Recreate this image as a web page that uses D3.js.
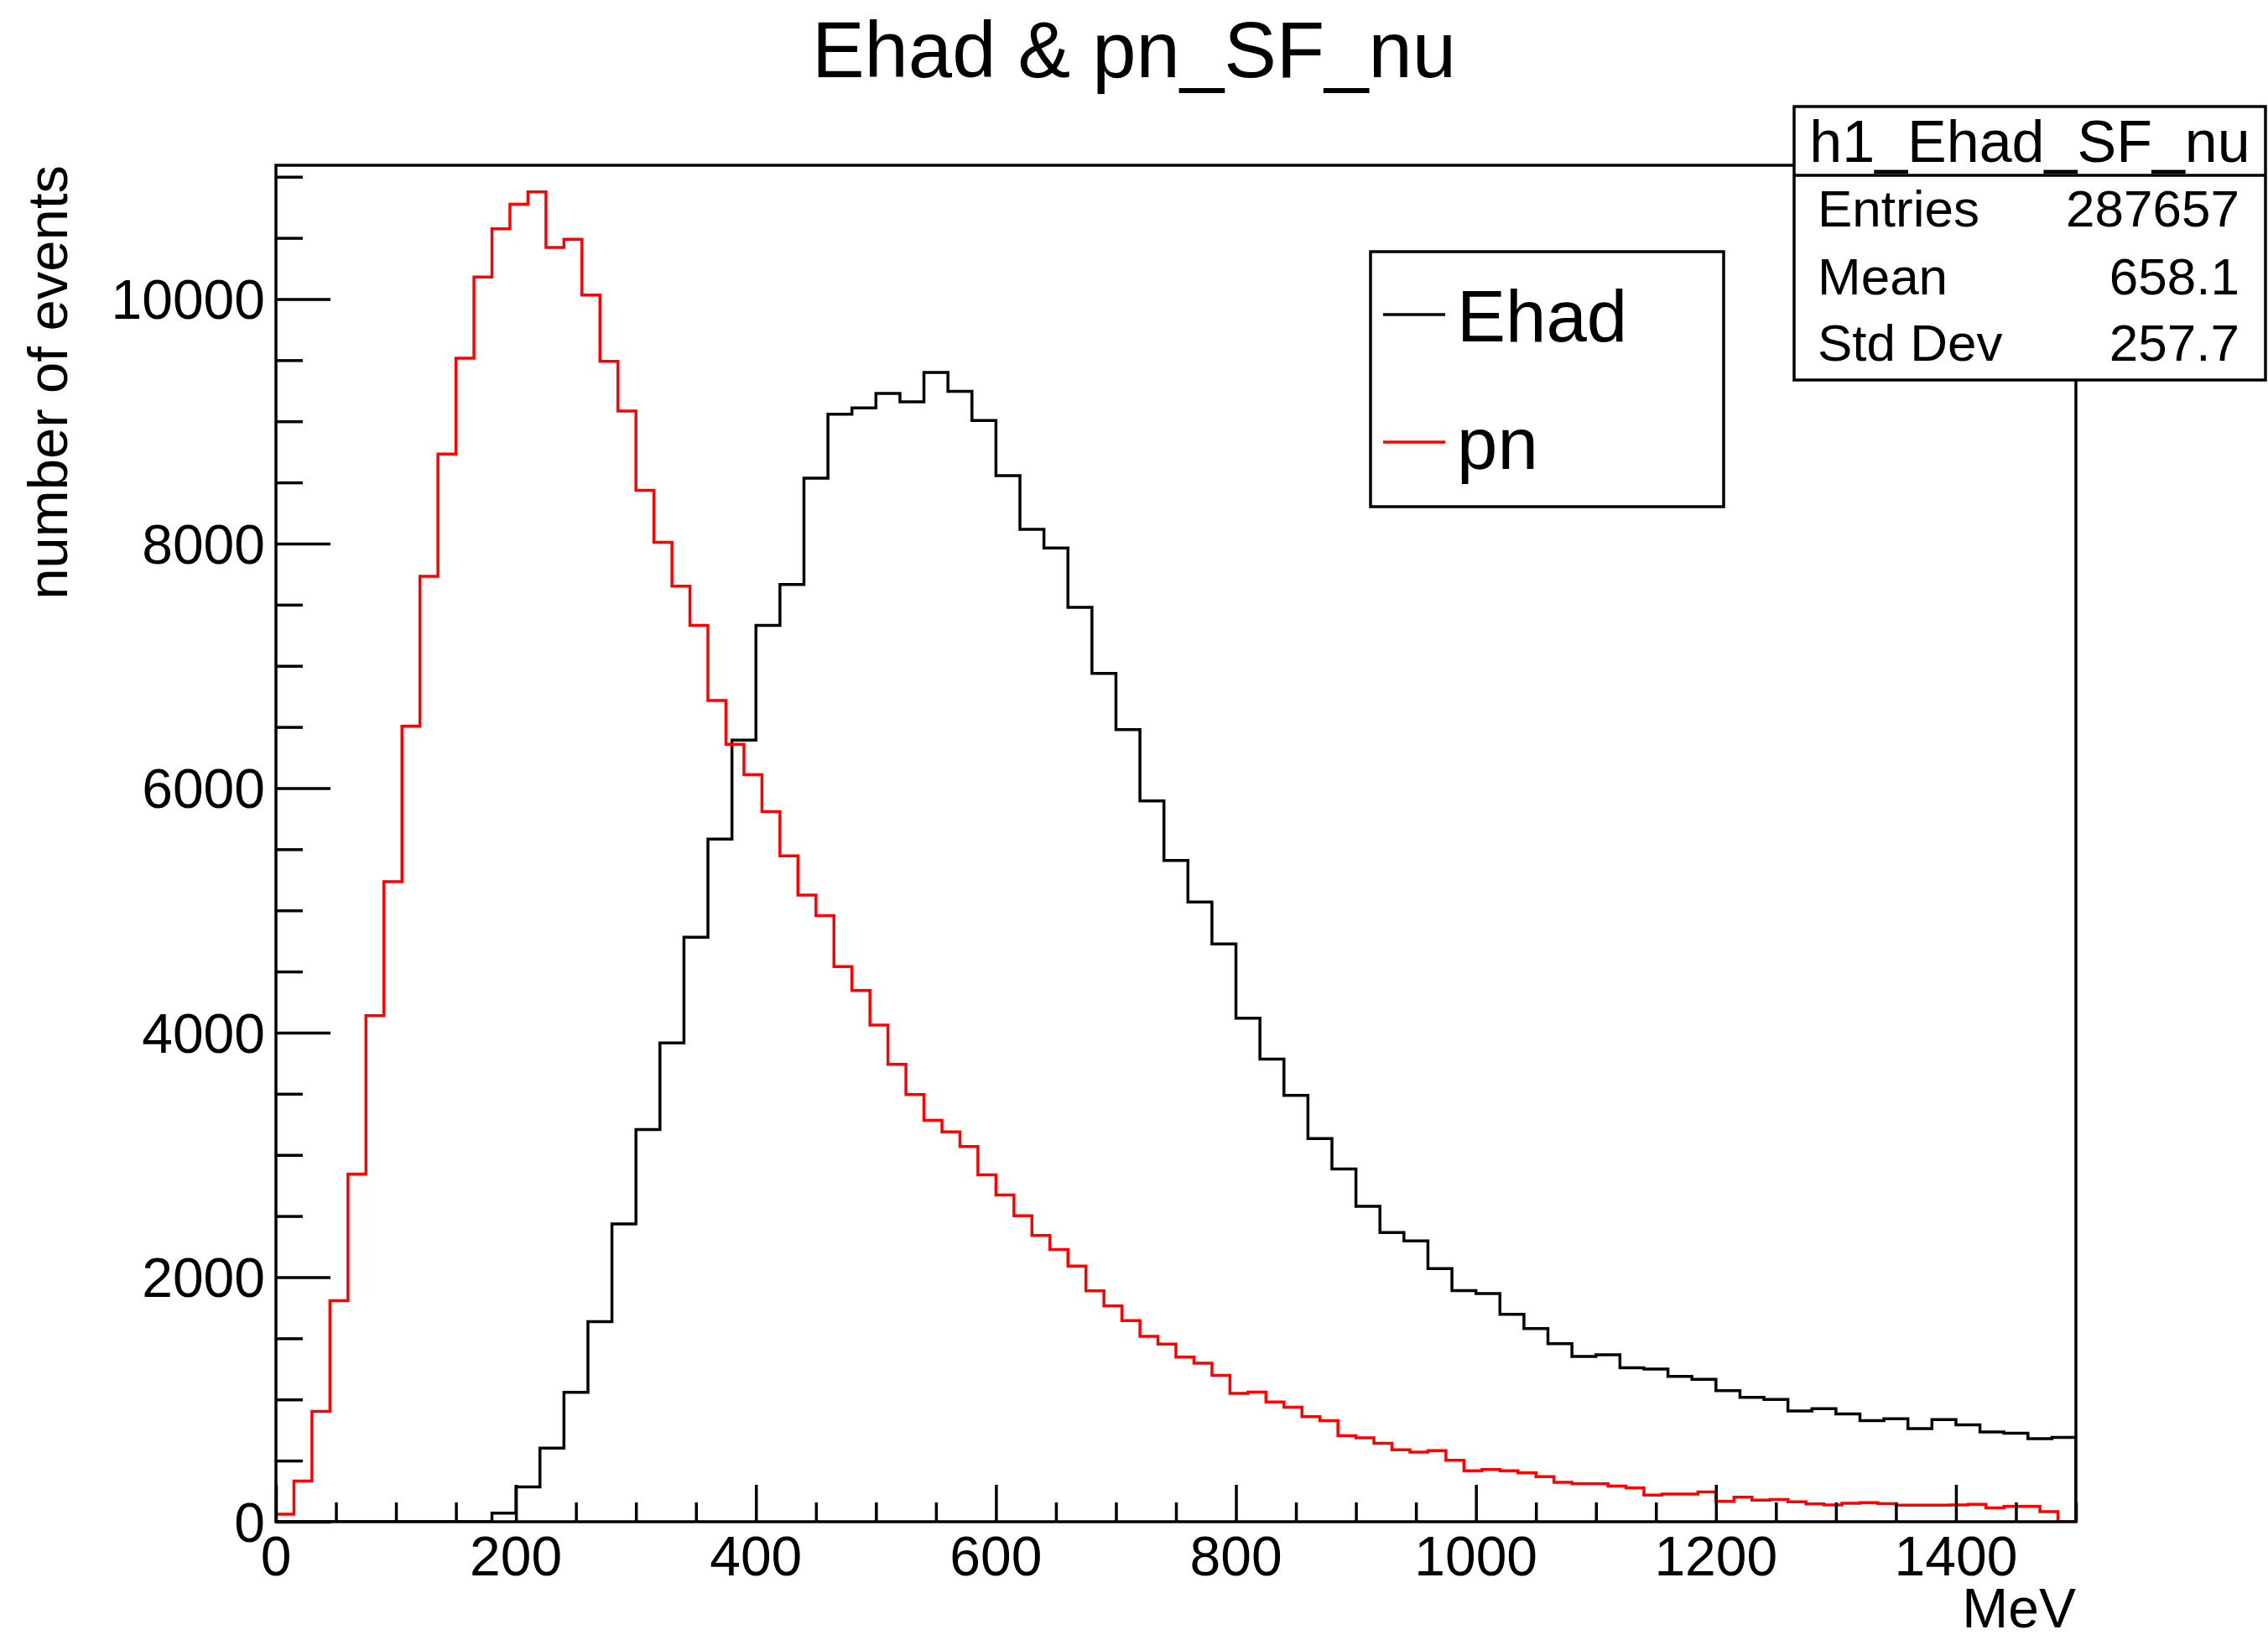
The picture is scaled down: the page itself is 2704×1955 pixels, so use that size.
<!DOCTYPE html>
<html>
<head>
<meta charset="utf-8">
<script src="https://cdn.jsdelivr.net/npm/d3@7"></script>
<style>
  body { margin: 0; background: #fff; }
  text { font-family: "Liberation Sans", Arial, Helvetica, sans-serif; fill: #000; }
</style>
</head>
<body>
<svg id="chart"></svg>
<script>

// histogram contents
const ehadBinWidth = 20;   // MeV
const pnBinWidth = 15;     // MeV

const ehadCounts = [
  0, 0, 0, 0, 0, 0, 0, 0, 0, 70,
  285, 602, 1058, 1637, 2436, 3208, 3915, 4780, 5583, 6393,
  7330, 7666, 8535, 9058, 9110, 9227, 9159, 9399, 9245, 9006,
  8556, 8117, 7964, 7478, 6938, 6478, 5896, 5408, 5068, 4726,
  4119, 3784, 3487, 3134, 2885, 2580, 2365, 2296, 2071, 1890,
  1867, 1696, 1580, 1457, 1352, 1365, 1259, 1249, 1188, 1164,
  1072, 1017, 1000, 905, 925, 881, 826, 843, 761, 836,
  792, 734, 723, 679, 690
];

const pnCounts = [
  62, 332, 903, 1807, 2842, 4139, 5235, 6505, 7733, 8733,
  9516, 10179, 10575, 10775, 10877, 10421, 10488, 10032, 9491, 9084,
  8435, 8010, 7652, 7330, 6716, 6358, 6110, 5807, 5446, 5125,
  4957, 4540, 4344, 4061, 3741, 3494, 3283, 3189, 3069, 2837,
  2673, 2502, 2342, 2226, 2091, 1888, 1765, 1645, 1517, 1452,
  1347, 1296, 1198, 1049, 1060, 979, 936, 860, 827, 703,
  686, 642, 588, 570, 581, 502, 417, 427, 417, 399,
  368, 322, 310, 310, 292, 277, 217, 226, 226, 243,
  166, 200, 176, 181, 163, 145, 138, 151, 156, 147,
  135, 135, 135, 138, 143, 114, 125, 125, 83, 0
];

const xMajorTicks = [0, 200, 400, 600, 800, 1000, 1200, 1400];
const yMajorTicks = [0, 2000, 4000, 6000, 8000, 10000];

const statsLabels = ["Entries", "Mean", "Std Dev"];
const statsValues = ["287657", "658.1", "257.7"];

const legendNames = ["Ehad", "pn"];
const legendColors = ["#000000", "#ff0000"];

// layout
const width = 2704, height = 1955;
const frame = { left: 329, right: 2475, top: 197, bottom: 1814 };
const lineW = 3.5;

const svg = d3.select("#chart")
  .attr("width", width)
  .attr("height", height);

const xScale = d3.scaleLinear()
  .domain([0, 1500])
  .range([frame.left, frame.right]);

const yScale = d3.scaleLinear()
  .domain([0, 11094])
  .range([frame.bottom, frame.top]);

// title
svg.append("text")
  .attr("x", 1352)
  .attr("y", 92)
  .attr("text-anchor", "middle")
  .style("font-size", "94px")
  .text("Ehad & pn_SF_nu");

// clip so the outlines stay inside the frame
svg.append("clipPath")
  .attr("id", "frame-clip")
  .append("rect")
    .attr("x", frame.left)
    .attr("y", frame.top)
    .attr("width", frame.right - frame.left)
    .attr("height", frame.bottom - frame.top);

// turn bin contents into step outline points, starting and ending on the baseline
const stepPoints = (counts, binWidth) => {
  const pts = [[0, 0]];
  counts.forEach((c, i) => pts.push([i * binWidth, c]));
  pts.push([counts.length * binWidth, 0]);
  return pts;
};

const stepLine = d3.line()
  .x(d => xScale(d[0]))
  .y(d => yScale(d[1]))
  .curve(d3.curveStepAfter);

const plot = svg.append("g").attr("clip-path", "url(#frame-clip)");

plot.append("path")
  .attr("d", stepLine(stepPoints(ehadCounts, ehadBinWidth)))
  .attr("fill", "none")
  .attr("stroke", legendColors[0])
  .attr("stroke-width", lineW);

plot.append("path")
  .attr("d", stepLine(stepPoints(pnCounts, pnBinWidth)))
  .attr("fill", "none")
  .attr("stroke", legendColors[1])
  .attr("stroke-width", lineW);

// frame
svg.append("rect")
  .attr("x", frame.left)
  .attr("y", frame.top)
  .attr("width", frame.right - frame.left)
  .attr("height", frame.bottom - frame.top)
  .attr("fill", "none")
  .attr("stroke", "#000")
  .attr("stroke-width", lineW);

// x axis, ticks drawn inwards like ROOT
const xAxis = d3.axisBottom(xScale)
  .tickValues(d3.range(0, 1501, 50))
  .tickSize(0)
  .tickFormat("");

const xAxisG = svg.append("g")
  .attr("transform", `translate(0, ${frame.bottom})`)
  .call(xAxis);
xAxisG.select(".domain").remove();
xAxisG.selectAll(".tick line")
  .attr("y2", d => xMajorTicks.includes(d) ? -44 : -23)
  .attr("stroke", "#000")
  .attr("stroke-width", lineW);

xAxisG.selectAll(".x-label")
  .data(xMajorTicks)
  .join("text")
    .attr("class", "x-label")
    .attr("x", d => xScale(d))
    .attr("y", 1878 - frame.bottom)
    .attr("text-anchor", "middle")
    .style("font-size", "66px")
    .text(d => d);

svg.append("text")
  .attr("x", frame.right)
  .attr("y", 1940)
  .attr("text-anchor", "end")
  .style("font-size", "66px")
  .text("MeV");

// y axis
const yAxis = d3.axisLeft(yScale)
  .tickValues(d3.range(0, 11001, 500))
  .tickSize(0)
  .tickFormat("");

const yAxisG = svg.append("g")
  .attr("transform", `translate(${frame.left}, 0)`)
  .call(yAxis);
yAxisG.select(".domain").remove();
yAxisG.selectAll(".tick line")
  .attr("x2", d => yMajorTicks.includes(d) ? 65 : 32)
  .attr("stroke", "#000")
  .attr("stroke-width", lineW);

yAxisG.selectAll(".y-label")
  .data(yMajorTicks)
  .join("text")
    .attr("class", "y-label")
    .attr("x", -13)
    .attr("y", d => yScale(d))
    .attr("dy", "0.36em")
    .attr("text-anchor", "end")
    .style("font-size", "66px")
    .text(d => d);

svg.append("text")
  .attr("transform", `translate(80, ${frame.top}) rotate(-90)`)
  .attr("text-anchor", "end")
  .style("font-size", "67px")
  .text("number of events");

// legend
const legend = svg.append("g");
legend.append("rect")
  .attr("x", 1634)
  .attr("y", 300)
  .attr("width", 421)
  .attr("height", 304)
  .attr("fill", "#fff")
  .attr("stroke", "#000")
  .attr("stroke-width", lineW);

const legendRowY = [375, 527];
legendNames.forEach((name, i) => {
  legend.append("line")
    .attr("x1", 1649)
    .attr("x2", 1723)
    .attr("y1", legendRowY[i])
    .attr("y2", legendRowY[i])
    .attr("stroke", legendColors[i])
    .attr("stroke-width", lineW);
  legend.append("text")
    .attr("x", 1737)
    .attr("y", legendRowY[i] + 32)
    .style("font-size", "87px")
    .text(name);
});

// stats box
const stats = svg.append("g");
stats.append("rect")
  .attr("x", 2139)
  .attr("y", 127)
  .attr("width", 562)
  .attr("height", 326)
  .attr("fill", "#fff")
  .attr("stroke", "#000")
  .attr("stroke-width", lineW);

stats.append("line")
  .attr("x1", 2139)
  .attr("x2", 2701)
  .attr("y1", 209)
  .attr("y2", 209)
  .attr("stroke", "#000")
  .attr("stroke-width", lineW);

stats.append("text")
  .attr("x", 2420)
  .attr("y", 193)
  .attr("text-anchor", "middle")
  .style("font-size", "70px")
  .text("h1_Ehad_SF_nu");

const statsRowY = [270, 351, 430];
statsLabels.forEach((label, i) => {
  stats.append("text")
    .attr("x", 2167)
    .attr("y", statsRowY[i])
    .style("font-size", "62px")
    .text(label);
  stats.append("text")
    .attr("x", 2670)
    .attr("y", statsRowY[i])
    .attr("text-anchor", "end")
    .style("font-size", "62px")
    .text(statsValues[i]);
});

</script>
</body>
</html>
